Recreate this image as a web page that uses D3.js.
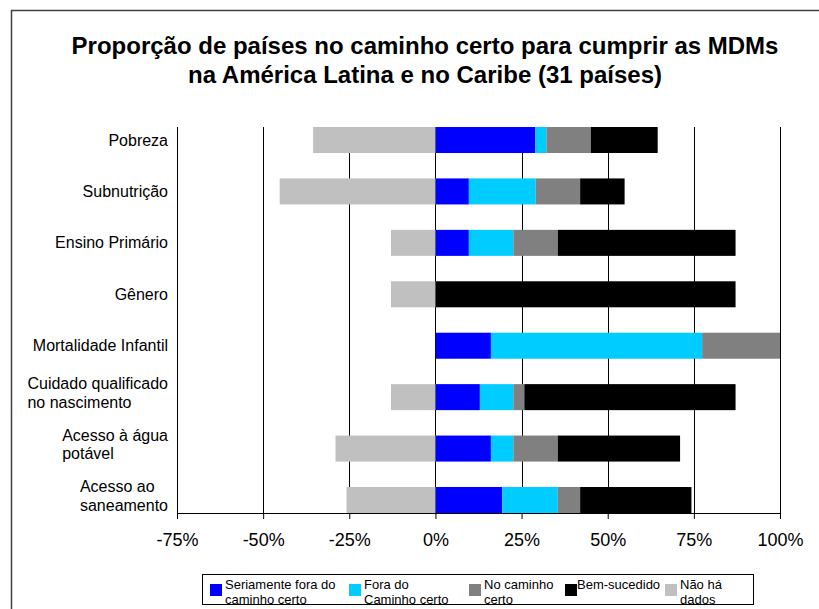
<!DOCTYPE html>
<html>
<head>
<meta charset="utf-8">
<script src="https://cdn.jsdelivr.net/npm/d3@7"></script>
<style>
  body { margin: 0; background: #fff; overflow: hidden; }
  svg { display: block; }
  text { font-family: "Liberation Sans", Arial, sans-serif; fill: #000; }
</style>
</head>
<body>
<script>

// Categories, top to bottom (\n marks a line break in the label)
var categories = ["Pobreza", "Subnutrição", "Ensino Primário", "Gênero",
  "Mortalidade Infantil", "Cuidado qualificado\nno nascimento",
  "Acesso à água\npotável", "Acesso ao\nsaneamento"];

// Shares of the 31 countries, in percent
var seriamente  = [29.0,  9.7,  9.7,  0.0, 16.1, 12.9, 16.1, 19.4];
var foraCaminho = [ 3.2, 19.4, 12.9,  0.0, 61.3,  9.7,  6.5, 16.1];
var noCaminho   = [12.9, 12.9, 12.9,  0.0, 22.6,  3.2, 12.9,  6.5];
var bemSucedido = [19.4, 12.9, 51.6, 87.1,  0.0, 61.3, 35.5, 32.3];
var naoHaDados  = [35.5, 45.2, 12.9, 12.9,  0.0, 12.9, 29.0, 25.8];

var xTicks = [-75, -50, -25, 0, 25, 50, 75, 100];

var seriesNames = [["Seriamente fora do", "caminho certo"], ["Fora do", "Caminho certo"],
  ["No caminho", "certo"], ["Bem-sucedido"], ["Não há", "dados"]];
var seriesColors = ["#0000ff", "#00ccff", "#808080", "#000000", "#c0c0c0"];

var width = 819, height = 609;
var plot = {left: 177, right: 780, top: 127, bottom: 513};

var svg = d3.select("body").append("svg")
    .attr("width", width)
    .attr("height", height);

// outer chart frame: only its left and top edges are in the picture
svg.append("path")
    .attr("d", "M11.5," + height + "V10.5H" + width)
    .attr("fill", "none")
    .attr("stroke", "#404040")
    .attr("stroke-width", 1.5);

// Title
var title = svg.append("text")
    .attr("text-anchor", "middle")
    .style("font-size", "24px")
    .style("font-weight", "bold");
title.append("tspan").attr("x", 425).attr("y", 54)
    .text("Proporção de países no caminho certo para cumprir as MDMs");
title.append("tspan").attr("x", 425).attr("y", 83)
    .text("na América Latina e no Caribe (31 países)");

var x = d3.scaleLinear()
    .domain([-75, 100])
    .range([plot.left, plot.right]);

var y = d3.scaleBand()
    .domain(categories)
    .range([plot.top, plot.bottom])
    .paddingInner(0.494)
    .paddingOuter(0);

// vertical gridlines
svg.append("g")
  .selectAll("line")
  .data(xTicks.slice(1))
  .enter().append("line")
    .attr("x1", function(d) { return Math.round(x(d)) + 0.5; })
    .attr("x2", function(d) { return Math.round(x(d)) + 0.5; })
    .attr("y1", plot.top)
    .attr("y2", plot.bottom)
    .attr("stroke", "#000")
    .attr("stroke-width", 1);

// Stack the series: positive ones from 0 to the right, "no data" to the left
var positives = [seriamente, foraCaminho, noCaminho, bemSucedido];
var segments = [];
categories.forEach(function(c, i) {
  var start = 0;
  positives.forEach(function(s, k) {
    segments.push({cat: c, x0: start, x1: start + s[i], color: seriesColors[k]});
    start += s[i];
  });
  segments.push({cat: c, x0: -naoHaDados[i], x1: 0, color: seriesColors[4]});
});

svg.append("g")
  .selectAll("rect")
  .data(segments.filter(function(d) { return d.x1 > d.x0; }))
  .enter().append("rect")
    .attr("x", function(d) { return x(d.x0); })
    .attr("width", function(d) { return x(d.x1) - x(d.x0); })
    .attr("y", function(d) { return y(d.cat); })
    .attr("height", y.bandwidth())
    .attr("fill", function(d) { return d.color; });

// left axis line
svg.append("line")
    .attr("x1", plot.left + 0.5).attr("x2", plot.left + 0.5)
    .attr("y1", plot.top).attr("y2", plot.bottom)
    .attr("stroke", "#000");

// bottom axis
var xAxis = svg.append("g")
    .attr("transform", "translate(0," + plot.bottom + ")")
    .call(d3.axisBottom(x)
      .tickValues(xTicks)
      .tickFormat(function(d) { return d + "%"; })
      .tickSize(6)
      .tickSizeOuter(0)
      .tickPadding(14));
xAxis.select(".domain").attr("stroke", "#000");
xAxis.selectAll(".tick line").attr("stroke", "#000");
xAxis.selectAll("text")
    .attr("font-family", null)
    .style("font-size", "18px")
    .attr("fill", "#000");

// category labels: block right-aligned at the axis, lines left-aligned
var lineH = 18.5;
categories.forEach(function(c) {
  var lines = c.split("\n");
  var cy = y(c) + y.bandwidth() / 2;
  var t = svg.append("text").style("font-size", "16px");
  if (lines.length === 1) {
    t.attr("text-anchor", "end").attr("x", 168).attr("y", cy + 5.5).text(c);
  } else {
    var top = cy - 4 - (lines.length - 1) * lineH / 2 + 5.5;
    lines.forEach(function(l, j) {
      t.append("tspan").attr("y", top + j * lineH).text(l);
    });
    var w = 0;
    t.selectAll("tspan").each(function() { w = Math.max(w, this.getComputedTextLength()); });
    t.selectAll("tspan").attr("x", 168 - w);
  }
});

// Legend
var legendX = [210, 349, 469, 565, 665];
var legend = svg.append("g");
legend.append("rect")
    .attr("x", 202.5).attr("y", 574.5)
    .attr("width", 551).attr("height", 30)
    .attr("fill", "#fff")
    .attr("stroke", "#000");
seriesNames.forEach(function(name, k) {
  legend.append("rect")
      .attr("x", legendX[k]).attr("y", 584)
      .attr("width", 12).attr("height", 12)
      .attr("fill", seriesColors[k]);
  var t = legend.append("text").style("font-size", "13px");
  name.forEach(function(l, j) {
    t.append("tspan")
      .attr("x", legendX[k] + (k === 3 ? 12 : 15))
      .attr("y", 589 + j * 14.5)
      .text(l);
  });
});

</script>
</body>
</html>
